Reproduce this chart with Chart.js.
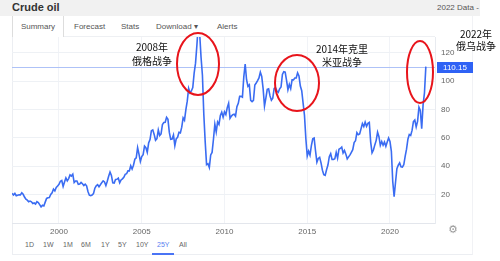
<!DOCTYPE html>
<html lang="zh-CN">
<head>
<meta charset="UTF-8">
<title>Crude oil</title>
<script src="https://cdn.jsdelivr.net/npm/chart.js"></script>
<style>
    body {
        margin: 0;
        width: 500px;
        height: 261px;
        overflow: hidden;
        background: #fff;
        font-family: 'Liberation Sans', Arial, sans-serif;
        position: relative;
    }
    .topbar {
        position: absolute;
        left: 0; top: 0;
        width: 480px; height: 16px;
        background: #f1f1f1;
    }
    .topbar .title {
        position: absolute;
        left: 12px; top: 1px;
        font-size: 11px;
        font-weight: bold;
        color: #333;
    }
    .topbar .data {
        position: absolute;
        left: 437px; top: 3px;
        font-size: 8px;
        color: #555;
        white-space: nowrap;
    }
    .card {
        position: absolute;
        left: 12px; top: 16px;
        width: 461px; height: 239px;
        border-left: 1px solid #eceef2;
        border-right: 1px solid #f1f2f5;
        border-bottom: 1px solid #eceef2;
        box-sizing: border-box;
    }
    .tabs {
        position: absolute;
        left: 12px; top: 16px;
        height: 21px;
        width: 423px;
        border-bottom: 1px solid #eef0f3;
        box-sizing: border-box;
    }
    .tab {
        position: absolute;
        top: 6px;
        font-size: 8px;
        color: #555;
        white-space: nowrap;
    }
    .tab.sel {
        top: 0;
        left: 0;
        width: 52px;
        height: 21px;
        border-left: 1px solid #ddd;
        border-right: 1px solid #ddd;
        background: #fff;
        box-sizing: border-box;
        line-height: 21px;
        text-align: center;
    }
    .ranges {
        position: absolute;
        left: 25px; top: 241px;
        font-size: 7px;
        color: #666;
    }
    .ranges span {
        position: absolute;
        white-space: nowrap;
    }
    .ranges span.sel {
        color: #5b7ff0;
    }
    .ranges .bar {
        position: absolute;
        height: 2px;
        background: #4a74f5;
    }
    canvas {
        position: absolute;
        left: 0; top: 0;
        pointer-events: none;
    }
</style>
</head>
<body>
<div class="topbar">
    <div class="title">Crude oil</div>
    <div class="data">2022 Data -</div>
</div>
<div class="card"></div>
<div class="tabs" id="tabs"></div>
<div class="ranges" id="ranges"></div>
<canvas id="chart" width="500" height="240"></canvas>
<script>
// monthly WTI crude, starting Mar 1997
const startYear = 1997;
const startMonth = 3;
const prices = [
    20.9, 19.7, 20.8, 19.2, 19.6, 19.9, 19.8, 21.3, 20.2, 18.3,
    16.7, 16.1, 15.0, 15.4, 14.9, 13.7, 14.1, 13.4, 15.0, 14.4, 12.9, 11.3,
    12.5, 12.0, 14.7, 17.3, 17.8, 17.9, 20.1, 21.3, 23.9, 22.6, 25.0, 26.1,
    27.2, 29.4, 29.9, 25.7, 28.8, 31.8, 29.7, 31.3, 33.9, 33.1, 34.4, 28.5,
    29.6, 29.6, 27.2, 27.4, 28.6, 27.6, 26.4, 27.4, 26.2, 22.2, 19.6, 19.3,
    19.7, 20.7, 24.5, 26.2, 27.0, 25.5, 26.9, 28.4, 29.7, 28.9, 26.3, 29.4,
    32.9, 35.9, 33.5, 28.3, 28.1, 30.7, 30.8, 31.6, 28.3, 30.3, 31.1, 32.2,
    34.3, 34.7, 36.7, 36.7, 40.3, 38.0, 40.7, 44.9, 45.9, 53.1, 48.5, 43.3,
    46.8, 48.1, 54.2, 53.0, 49.8, 56.3, 58.7, 65.0, 65.6, 62.4, 58.3, 59.4,
    65.5, 61.6, 62.7, 69.4, 70.8, 70.9, 74.4, 73.0, 63.8, 58.9, 59.1, 62.0,
    54.5, 59.3, 60.4, 63.9, 63.5, 67.5, 74.1, 72.4, 79.9, 85.8, 94.8, 91.7,
    93.0, 95.4, 105.5, 112.6, 125.4, 140.0, 133.4, 116.7, 104.1, 76.6, 57.3, 41.1,
    41.7, 39.1, 47.9, 49.7, 59.0, 69.6, 64.2, 71.1, 69.4, 75.7, 78.0, 74.5,
    78.3, 76.4, 81.2, 84.3, 73.7, 75.3, 76.3, 76.6, 75.2, 81.9, 84.3, 89.2,
    89.2, 88.6, 102.9, 112.0, 100.9, 96.3, 97.3, 86.3, 85.5, 86.3, 97.2, 98.6,
    100.3, 102.2, 106.2, 103.3, 94.7, 82.3, 87.9, 94.1, 94.5, 89.5, 86.5, 87.9,
    94.8, 95.3, 92.9, 92.0, 94.5, 95.8, 104.6, 106.6, 106.3, 100.5, 93.9, 97.6,
    94.6, 100.8, 100.8, 102.1, 102.2, 105.8, 103.6, 96.5, 93.2, 84.4, 75.8, 59.3,
    47.2, 50.6, 47.8, 54.5, 59.3, 59.8, 50.9, 42.9, 45.5, 46.2, 42.4, 37.2,
    34.0, 33.5, 37.5, 40.8, 46.7, 48.8, 44.7, 44.7, 45.2, 49.8, 45.7, 52.0,
    52.5, 53.5, 49.3, 51.1, 48.5, 45.2, 46.6, 48.0, 49.8, 51.6, 56.6, 57.9,
    63.7, 62.2, 62.7, 66.3, 70.0, 67.9, 71.0, 68.1, 70.2, 70.8, 57.0, 49.5,
    51.4, 55.0, 58.2, 63.9, 60.8, 54.7, 57.4, 54.8, 57.0, 54.0, 57.0, 59.9,
    57.5, 50.5, 29.2, 18.5, 28.5, 38.3, 40.7, 42.3, 39.6, 39.4, 41.0, 47.0,
    52.0, 59.0, 62.3, 61.7, 65.2, 71.4, 72.5, 67.7, 71.6, 81.5, 79.2, 66.5,
    83.2, 91.6, 110.15
];
const yearTicks = [2000, 2005, 2010, 2015, 2020];
const priceTicks = [20, 40, 60, 80, 100, 120];
const tabNames = ['Summary', 'Forecast', 'Stats', 'Download \u25BE', 'Alerts'];
const rangeNames = ['1D', '1W', '1M', '6M', '1Y', '5Y', '10Y', '25Y', 'All'];
const selectedRange = '25Y';

// header tabs
const tabLeft = [0, 62, 109, 144, 205];
const tabsEl = document.getElementById('tabs');
tabNames.forEach((t, i) => {
    const d = document.createElement('div');
    d.className = 'tab' + (i === 0 ? ' sel' : '');
    d.textContent = t;
    if (i > 0) d.style.left = tabLeft[i] + 'px';
    tabsEl.appendChild(d);
});

// range buttons
const rangeLeft = [0, 18, 38, 56, 76, 93, 111, 132, 154];
const rangesEl = document.getElementById('ranges');
rangeNames.forEach((r, i) => {
    const s = document.createElement('span');
    s.textContent = r;
    s.style.left = rangeLeft[i] + 'px';
    if (r === selectedRange) {
        s.className = 'sel';
        const b = document.createElement('div');
        b.className = 'bar';
        b.style.left = (rangeLeft[i] - 5) + 'px';
        b.style.width = '22px';
        b.style.top = '12px';
        rangesEl.appendChild(b);
    }
    rangesEl.appendChild(s);
});

const points = prices.map((p, i) => ({ x: startYear + (startMonth - 1 + i) / 12, y: p }));
const lastPrice = prices[prices.length - 1];

const overlay = {
    id: 'overlay',
    beforeDatasetsDraw(chart) {
        // current price line, under the series
        const ctx = chart.ctx;
        const area = chart.chartArea;
        const yy = Math.round(chart.scales.y.getPixelForValue(lastPrice)) + 0.5;
        ctx.save();
        ctx.strokeStyle = '#aec2f7';
        ctx.lineWidth = 1;
        ctx.beginPath();
        ctx.moveTo(area.left, yy);
        ctx.lineTo(area.right, yy);
        ctx.stroke();
        ctx.restore();
    },
    afterDatasetsDraw(chart) {
        const ctx = chart.ctx;
        const area = chart.chartArea;
        const yy = Math.round(chart.scales.y.getPixelForValue(lastPrice)) + 0.5;

        ctx.save();
        // price tag
        ctx.fillStyle = '#2f62f5';
        ctx.fillRect(area.right + 2, yy - 5.5, 36, 11);
        ctx.fillStyle = '#fff';
        ctx.font = '8px "Liberation Sans", Arial, sans-serif';
        ctx.textAlign = 'center';
        ctx.textBaseline = 'middle';
        ctx.fillText(lastPrice.toFixed(2), area.right + 20, yy + 0.5);

        // red circles
        ctx.strokeStyle = '#e8141b';
        ctx.lineWidth = 2;
        [[198, 64, 21, 31], [297, 83, 22, 28], [420, 72, 13, 31]].forEach(e => {
            ctx.beginPath();
            ctx.ellipse(e[0], e[1], e[2], e[3], 0, 0, Math.PI * 2);
            ctx.stroke();
        });

        // notes
        ctx.fillStyle = '#111';
        ctx.font = '10px "Noto Sans CJK SC", sans-serif';
        ctx.textAlign = 'center';
        ctx.fillText('2008年', 152, 47);
        ctx.fillText('俄格战争', 152, 61);
        ctx.fillText('2014年克里', 342, 49);
        ctx.fillText('米亚战争', 342, 62);
        ctx.fillText('2022年', 476, 34);
        ctx.fillText('俄乌战争', 476, 46);

        // settings gear
        ctx.fillStyle = '#999';
        ctx.font = '11px "DejaVu Sans", sans-serif';
        ctx.fillText('\u2699', 453, 230);
        ctx.restore();
    }
};

new Chart(document.getElementById('chart'), {
    type: 'line',
    data: {
        datasets: [{
            data: points,
            borderColor: '#3a6cf2',
            borderWidth: 1.6,
            pointRadius: 0,
            tension: 0
        }]
    },
    options: {
        responsive: false,
        animation: false,
        layout: { padding: { left: 12, top: 37, right: 0, bottom: 0 } },
        plugins: { legend: { display: false }, tooltip: { enabled: false } },
        scales: {
            x: {
                type: 'linear',
                min: 1997.16,
                max: 2022.72,
                afterBuildTicks: s => { s.ticks = yearTicks.map(v => ({ value: v })); },
                afterFit: s => { s.height = 17; },
                grid: { color: '#f1f3f7', drawTicks: false },
                border: { color: '#e3e6ec' },
                ticks: {
                    padding: 4,
                    maxRotation: 0,
                    color: '#666',
                    font: { size: 8, family: '"Liberation Sans", Arial, sans-serif' },
                    callback: v => String(v)
                }
            },
            y: {
                position: 'right',
                min: 0,
                max: 131,
                afterBuildTicks: s => { s.ticks = priceTicks.map(v => ({ value: v })); },
                afterFit: s => { s.width = 65; },
                grid: { color: '#eef1f5', drawTicks: false },
                border: { color: '#e8ebf0' },
                ticks: {
                    padding: 6,
                    color: '#666',
                    font: { size: 8, family: '"Liberation Sans", Arial, sans-serif' }
                }
            }
        }
    },
    plugins: [overlay]
});
</script>
</body>
</html>
